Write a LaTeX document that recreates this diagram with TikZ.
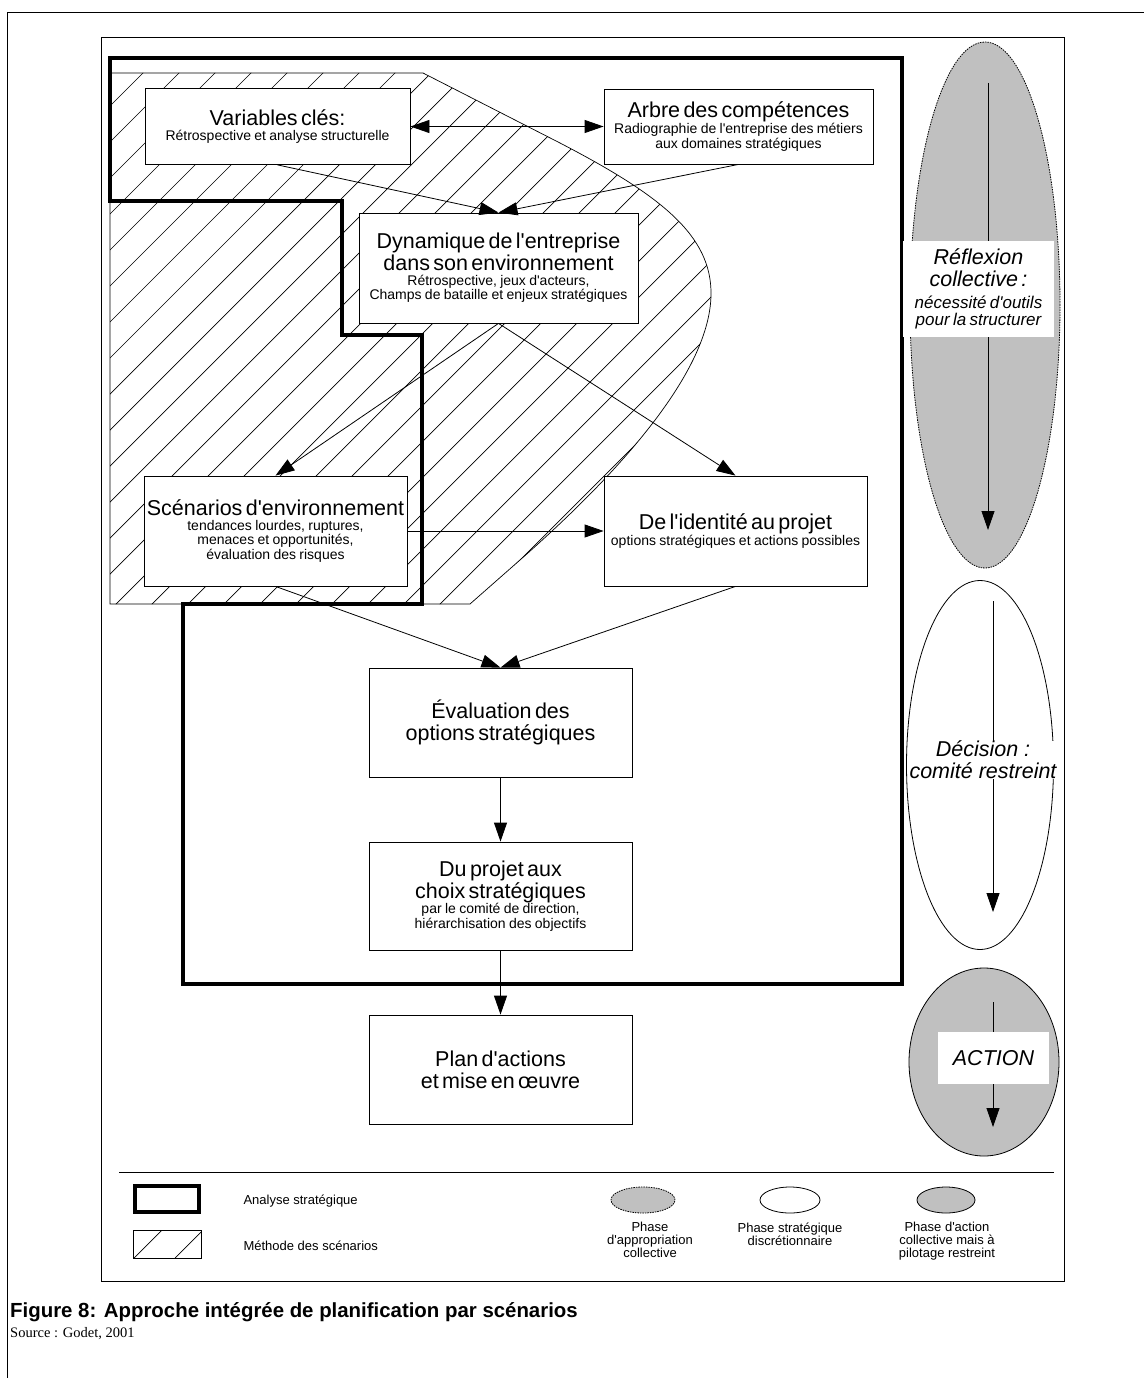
\documentclass[tikz,border=0pt]{standalone}
\usepackage{fontspec}
\setmainfont{Liberation Sans}[Ligatures=TeXOff]
\newfontfamily\timesfont{Liberation Serif}
\usepackage{tikz}
\usetikzlibrary{arrows.meta, shapes.geometric}
\definecolor{phasegray}{RGB}{192,192,192}
\newcommand\grand{\fontsize{21.5}{22}\selectfont}
\newcommand\petit{\fontsize{14}{14.5}\selectfont}
\newcommand\moyen{\fontsize{17}{17}\selectfont}
\newcommand\legende{\fontsize{13}{13}\selectfont}
\newcommand\titre[1]{{\grand #1\par}}
\newcommand\detail[1]{{\petit #1\par}}
\def\scenarea{(110,73) -- (423,73) -- (560,143) .. controls (660,195) and (712,235) .. (711,295)
  .. controls (710,360) and (645,450) .. (520,560) -- (470,604) -- (110,604) -- cycle}
\tikzstyle{arrow}     = [-{Triangle[length=19pt,width=13pt]}, line width=0.8pt]
\tikzstyle{box}       = [draw, fill=white, line width=0.8pt, align=center, inner sep=0pt]
\tikzstyle{strategic} = [line width=4.5pt, line join=miter]
\tikzstyle{phase}     = [ellipse, draw, line width=0.8pt, inner sep=0pt]
\tikzstyle{dotted phase} = [phase, fill=phasegray, dash pattern=on 1.5pt off 1pt]
\tikzstyle{phaselabel}   = [fill=white, align=center, inner sep=0pt, font=\itshape]

\begin{document}
\begin{tikzpicture}[x=1pt, y=-1pt]
  \useasboundingbox (0,0) rectangle (1144,1378);
  % page and frame
  \draw[line width=0.8pt] (7,1378) -- (7,12) -- (1144,12);
  \draw[line width=0.8pt] (101,37) rectangle (1064,1281);

  % methode des scenarios
  \scope
  \clip \scenarea;
  \foreach \k in {-1,...,24}
    \draw[line width=0.7pt] ({216+36*\k},0) -- ({216+36*\k-650},650);
  \endscope
  \draw[line width=0.7pt] \scenarea;

  % analyse strategique
  \draw[strategic] (110,58) -- (902,58) -- (902,984) -- (183,984) -- (183,604) -- (422,604)
        -- (422,335) -- (342,335) -- (342,201) -- (110,201) -- cycle;

  % steps
  \node[box, text width=265pt, minimum height=76pt] (vars) at (277.5,126.5)
    {\titre{Variables clés:}\detail{Rétrospective et analyse structurelle}};
  \node[box, text width=269pt, minimum height=75pt] (arbre) at (738.5,126.5)
    {\titre{Arbre des compétences}\detail{Radiographie de l'entreprise des métiers\\ aux domaines stratégiques}};
  \node[box, text width=279pt, minimum height=110pt] (dyn) at (498.5,268)
    {\titre{Dynamique de l'entreprise\\ dans son environnement}\detail{Rétrospective, jeux d'acteurs,\\ Champs de bataille et enjeux stratégiques}};
  \node[box, text width=263pt, minimum height=110pt] (scen) at (275.5,531)
    {\titre{Scénarios d'environnement}\detail{tendances lourdes, ruptures,\\ menaces et opportunités,\\ évaluation des risques}};
  \node[box, text width=263pt, minimum height=110pt] (ident) at (735.5,531)
    {\titre{De l'identité au projet}\detail{options stratégiques et actions possibles}};
  \node[box, text width=263pt, minimum height=109pt] (eval) at (500.5,722.5)
    {\titre{Évaluation des\\ options stratégiques}};
  \node[box, text width=263pt, minimum height=108pt] (projet) at (500.5,896)
    {\titre{Du projet aux\\ choix stratégiques}\detail{par le comité de direction,\\ hiérarchisation des objectifs}};
  \node[box, text width=263pt, minimum height=109pt] (plan) at (500.5,1069.5)
    {\titre{Plan d'actions\\ et mise en œuvre}};

  % links
  \draw[arrow, {Triangle[length=19pt,width=13pt]}-{Triangle[length=19pt,width=13pt]}] (vars.east) -- (arbre.west);
  \draw[arrow] (vars.south) -- (dyn.north);
  \draw[arrow] (arbre.south) -- (dyn.north);
  \draw[arrow] (dyn.south) -- (scen.north);
  \draw[arrow] (dyn.south) -- (ident.north);
  \draw[arrow] (scen.east) -- (ident.west);
  \draw[arrow] (scen.south) -- (eval.north);
  \draw[arrow] (ident.south) -- (eval.north);
  \draw[arrow] (eval) -- (projet);
  \draw[arrow] (projet) -- (plan);

  % phases
  \node[dotted phase, minimum width=150pt, minimum height=526pt] (reflexion) at (985,305) {};
  \coordinate (r1) at (988,83);
  \coordinate (r2) at (988,530);
  \draw[arrow] (r1) -- (r2);
  \node[phaselabel, text width=151pt, minimum height=96pt] (reflexionlbl) at (978.5,289)
    {{\grand Réflexion\\ collective :\par}\vspace{5pt}{\moyen nécessité d'outils\\ pour la structurer\par}};

  \node[phase, fill=white, minimum width=147pt, minimum height=369pt] (decision) at (980,765) {};
  \coordinate (d1) at (993,601);
  \coordinate (d2) at (993,912);
  \draw[arrow] (d1) -- (d2);
  \node[phaselabel, font=\itshape\grand] (decisionlbl) at (983,760) {Décision :\\ comité restreint};

  \node[phase, fill=phasegray, minimum width=150pt, minimum height=188pt] (action) at (984,1062) {};
  \coordinate (a1) at (993,1002);
  \coordinate (a2) at (993,1127);
  \draw[arrow] (a1) -- (a2);
  \node[phaselabel, font=\itshape\grand, minimum width=111pt, minimum height=52pt] (actionlbl) at (993.5,1058) {ACTION};

  % legend
  \draw[line width=0.8pt] (119,1172) -- (1054,1172);
  \draw[line width=4.5pt] (135,1186) rectangle (199,1212);
  \node[anchor=west, font=\legende] (legas) at (240,1201) {Analyse stratégique};
  \scope
  \clip (133,1230) rectangle (201,1258);
  \foreach \c in {1392,1433}
    \draw[line width=0.7pt] (\c-1258,1258) -- (\c-1230,1230);
  \endscope
  \draw[line width=0.7pt] (133,1230) rectangle (201,1258);
  \node[anchor=west, font=\legende] (legms) at (240,1246) {Méthode des scénarios};

  \node[dotted phase, minimum width=64pt, minimum height=26pt] (legp1) at (643,1200) {};
  \node[phase, fill=white, minimum width=60pt, minimum height=26pt] (legp2) at (790,1200) {};
  \node[phase, fill=phasegray, minimum width=58pt, minimum height=26pt] (legp3) at (946,1200) {};
  \node[anchor=north, align=center, font=\legende] (legt1) at (650,1219) {Phase\\ d'appropriation\\ collective};
  \node[anchor=north, align=center, font=\legende] (legt2) at (790,1219) {Phase stratégique\\ discrétionnaire};
  \node[anchor=north, align=center, font=\legende] (legt3) at (947,1219) {Phase d'action\\ collective mais à\\ pilotage restreint};

  % caption
  \node[anchor=base west, inner sep=0pt, font=\bfseries\fontsize{20.4}{22}\selectfont] (caption) at (10,1317)
    {Figure 8: Approche intégrée de planification par scénarios};
  \node[anchor=base west, inner sep=0pt, font=\timesfont\fontsize{14.5}{16}\selectfont] (source) at (10,1337)
    {Source : Godet, 2001};
\end{tikzpicture}
\end{document}
